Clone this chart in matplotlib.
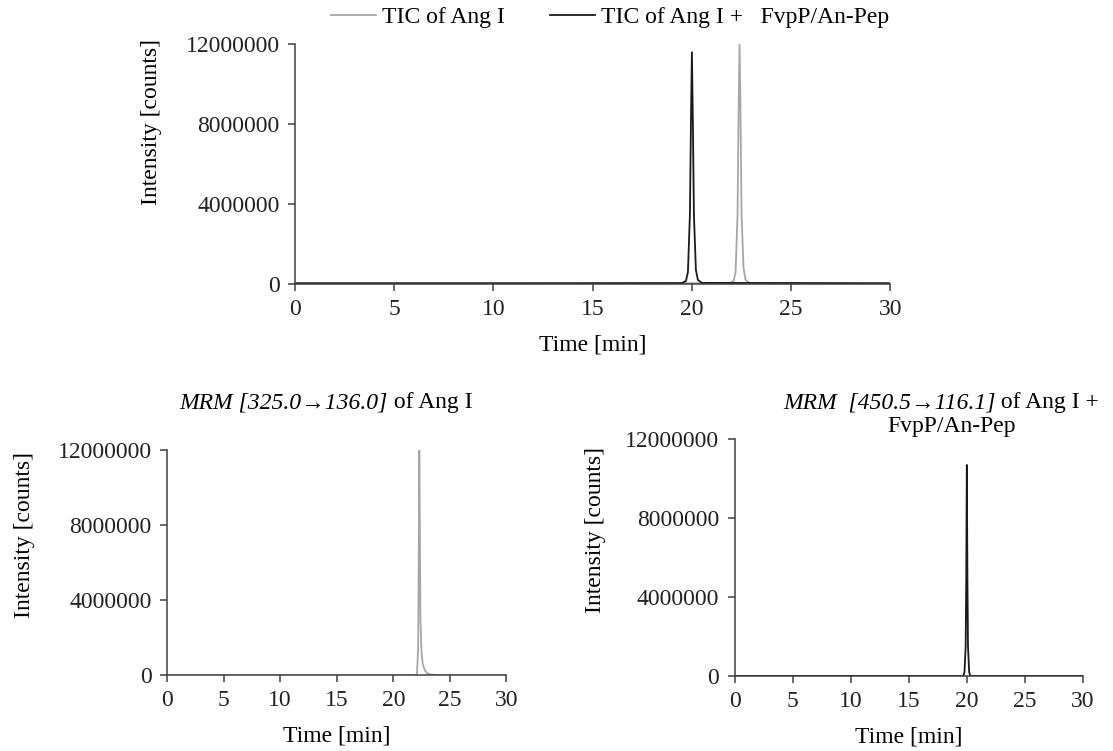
import matplotlib
matplotlib.use("Agg")
import matplotlib.pyplot as plt

plt.rcParams['font.family'] = ['Liberation Serif', 'DejaVu Serif']

# TIC of Ang I (grey)
ang1_tic_t = [0.0, 11.5, 21.9, 22.1, 22.2, 22.3, 22.35, 22.4, 22.45, 22.5, 22.6, 22.7, 22.9, 30.0]
ang1_tic_i = [30000, 30000, 40000, 150000, 600000, 3500000, 8500000, 12000000, 8500000, 3500000, 800000, 200000, 50000, 30000]

# TIC of Ang I + FvpP/An-Pep (black)
mix_tic_t = [0.0, 11.5, 19.5, 19.7, 19.8, 19.9, 19.95, 20.0, 20.05, 20.1, 20.2, 20.3, 20.5, 30.0]
mix_tic_i = [30000, 30000, 40000, 150000, 600000, 3500000, 8000000, 11600000, 8000000, 3500000, 700000, 200000, 50000, 30000]

# MRM [325.0->136.0] of Ang I
mrm1_t = [0.0, 22.0, 22.1, 22.2, 22.25, 22.3, 22.35, 22.4, 22.5, 22.6, 22.8, 23.0, 23.3, 24.0, 30.0]
mrm1_i = [0, 0, 100000, 1500000, 6000000, 12000000, 8000000, 3000000, 1200000, 600000, 250000, 100000, 30000, 10000, 0]

# MRM [450.5->116.1] of Ang I + FvpP/An-Pep
mrm2_t = [0.0, 19.7, 19.8, 19.9, 19.95, 20.0, 20.05, 20.1, 20.2, 20.3, 30.0]
mrm2_i = [0, 0, 200000, 1500000, 5000000, 10700000, 5000000, 1500000, 200000, 0, 0]

x_ticks = [0, 5, 10, 15, 20, 25, 30]
y_ticks = [0, 4000000, 8000000, 12000000]

GREY = "#a6a6a6"
BLACK = "#1a1a1a"
AXC = "#404040"
FS = 17
W, H = 1113, 751


def style_axes(ax):
    ax.set_xlim(0, 30)
    ax.set_ylim(0, 12000000)
    ax.set_xticks(x_ticks)
    ax.set_yticks(y_ticks)
    ax.set_yticklabels([str(v) for v in y_ticks])
    for s in ["top", "right"]:
        ax.spines[s].set_visible(False)
    for s in ["left", "bottom"]:
        ax.spines[s].set_color(AXC)
        ax.spines[s].set_linewidth(1.1)
    ax.tick_params(colors=AXC, labelcolor="#222222", labelsize=FS, length=5, width=1.1, pad=6)


fig = plt.figure(figsize=(11.13, 7.51), dpi=100)

ax1 = fig.add_axes([0.265, 0.622, 0.535, 0.319])
ax2 = fig.add_axes([0.150, 0.101, 0.305, 0.300])
ax3 = fig.add_axes([0.660, 0.100, 0.313, 0.315])

l1, = ax1.plot(ang1_tic_t, ang1_tic_i, color=GREY, lw=1.3)
l2, = ax1.plot(mix_tic_t, mix_tic_i, color=BLACK, lw=1.3)
ax2.plot(mrm1_t, mrm1_i, color=GREY, lw=1.3)
ax3.plot(mrm2_t, mrm2_i, color=BLACK, lw=1.3)

for ax in [ax1, ax2, ax3]:
    style_axes(ax)
    ax.set_xlabel("Time [min]", fontsize=FS, labelpad=10)

fig.legend([l1, l2], ["TIC of Ang I", "TIC of Ang I +   FvpP/An-Pep"],
           loc="center", bbox_to_anchor=(610 / W, 1 - 17 / H), ncol=2,
           frameon=False, fontsize=FS, handlelength=1.9, columnspacing=1.9,
           handletextpad=0.25, borderpad=0)

# y labels
fig.text(152 / W, 1 - 122 / H, "Intensity [counts]", rotation=90,
         ha="center", va="center", fontsize=FS)
fig.text(25 / W, 1 - 535 / H, "Intensity [counts]", rotation=90,
         ha="center", va="center", fontsize=FS)
fig.text(595 / W, 1 - 530 / H, "Intensity [counts]", rotation=90,
         ha="center", va="center", fontsize=FS)

# panel titles: italic part + roman part, centred as one line
renderer = fig.canvas.get_renderer()


def mixed_title(xc, yb, ital, roman):
    t1 = fig.text(0, 1 - yb / H, ital, style="italic", fontsize=FS, ha="left", va="baseline")
    t2 = fig.text(0, 1 - yb / H, roman, fontsize=FS, ha="left", va="baseline")
    w1 = t1.get_window_extent(renderer).width
    w2 = t2.get_window_extent(renderer).width
    x0 = xc - (w1 + w2) / 2
    t1.set_x(x0 / W)
    t2.set_x((x0 + w1) / W)


mixed_title(326, 408, "MRM [325.0→136.0]", " of Ang I")
mixed_title(941, 408, "MRM  [450.5→116.1]", " of Ang I +")
fig.text(952 / W, 1 - 432 / H, "FvpP/An-Pep", ha="center", va="baseline", fontsize=FS)

plt.savefig("out.png", dpi=100)
